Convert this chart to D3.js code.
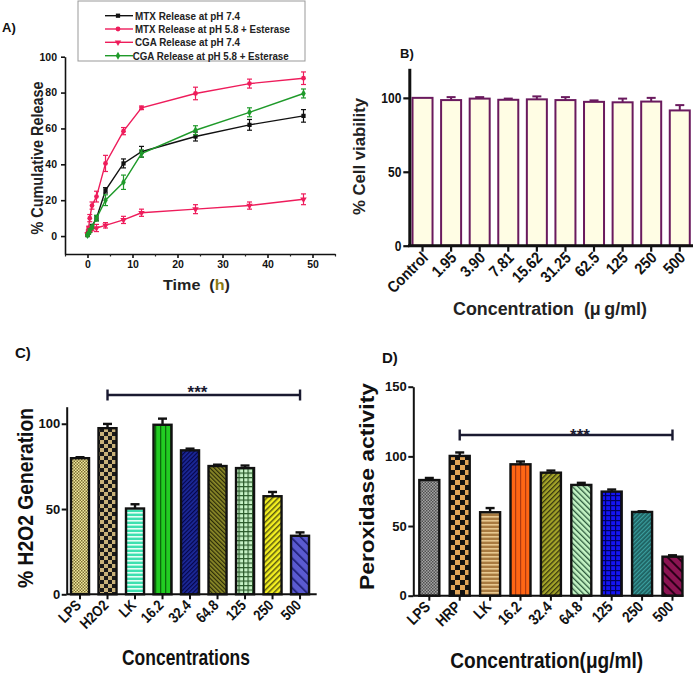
<!DOCTYPE html>
<html><head><meta charset="utf-8">
<script src="https://cdn.jsdelivr.net/npm/d3@7"></script>
<style>
body{margin:0;background:#fff}
svg{display:block;font-family:"Liberation Sans",Arial,sans-serif;font-weight:bold}
</style>
</head><body>
<svg id="fig" width="698" height="676"></svg>
<script>
// ---------- Panel A data ----------
const timesA = [0, 0.25, 0.5, 1, 2, 4, 8, 12, 24, 36, 48];
const mtx74 = [0.5, 2, 3, 5.5, 10, 25.5, 40.5, 47, 55.5, 62, 67];
const mtx74Err = [0.5, 0.5, 1, 1, 1.5, 1.5, 2.5, 3, 2.5, 3, 3.5];
const mtx58 = [1, 4.5, 10, 17, 22, 40.5, 58.5, 71.5, 79.5, 85, 88];
const mtx58Err = [1, 1, 2, 2, 3, 4.5, 2, 1, 3.5, 2.5, 3.5];
const cga74 = [1, 2.5, 3.5, 4, 4.5, 6, 9, 13, 15, 17, 20.5];
const cga74Err = [1, 1, 1, 1, 2, 1.5, 2, 2, 2.5, 2, 3];
const cga58 = [0.5, 1.5, 3, 5, 10, 20, 30, 46, 59, 69, 79.5];
const cga58Err = [0.5, 0.5, 1, 1, 1.5, 3, 4, 2, 2.5, 2.5, 2.5];
const seriesNamesA = ["MTX Release at pH 7.4", "MTX Release at pH 5.8 + Esterase", "CGA Release at pH 7.4", "CGA Release at pH 5.8 + Esterase"];
const xTicksA = [0, 10, 20, 30, 40, 50];
const yTicksA = [0, 20, 40, 60, 80, 100];

// ---------- Panel B data ----------
const catsB = ["Control", "1.95", "3.90", "7.81", "15.62", "31.25", "62.5", "125", "250", "500"];
const viability = [100, 98.5, 99.5, 98.7, 99, 98.5, 97.3, 97, 97.5, 91.5];
const viabilityErr = [0, 2, 1, 0.8, 2, 2, 1, 2.5, 2.5, 3.6];
const yTicksB = [0, 50, 100];

// ---------- Panel C data ----------
const catsC = ["LPS", "H2O2", "LK", "16.2", "32.4", "64.8", "125", "250", "500"];
const h2o2 = [79.8, 97.4, 50.3, 99.4, 84.4, 75.2, 74, 57.5, 34.3];
const h2o2Err = [0.6, 2.5, 2.5, 3.6, 1, 0.8, 1.5, 2.5, 2];
const yTicksC = [0, 50, 100];

// ---------- Panel D data ----------
const catsD = ["LPS", "HRP", "LK", "16.2", "32.4", "64.8", "125", "250", "500"];
const peroxidase = [83, 100.3, 59.9, 94.3, 88.3, 79.5, 74.7, 60.1, 28];
const peroxidaseErr = [1.5, 2.5, 3, 2, 1.5, 1.5, 1.5, 0.5, 1];
const yTicksD = [0, 50, 100, 150];

const svg = d3.select("#fig");
const defs = svg.append("defs");

// ---------- helpers ----------
function txt(g, s, x, y, size, o = {}) {
  const t = g.append("text")
    .attr("transform", `translate(${x},${y})` + (o.rot ? ` rotate(${o.rot})` : ""))
    .attr("font-size", size)
    .attr("text-anchor", o.anchor || "middle")
    .attr("fill", o.fill || "#111");
  if (s !== null) t.text(s);
  if (o.len) t.attr("textLength", o.len).attr("lengthAdjust", "spacingAndGlyphs");
  return t;
}
function condense(sel, f) {
  sel.each(function () {
    const L = this.getComputedTextLength();
    d3.select(this).attr("textLength", L * f).attr("lengthAdjust", "spacingAndGlyphs");
  });
}
function pat(id, w, h, bg, rot) {
  const p = defs.append("pattern").attr("id", id).attr("patternUnits", "userSpaceOnUse")
    .attr("width", w).attr("height", h);
  if (rot) p.attr("patternTransform", `rotate(${rot})`);
  p.append("rect").attr("width", w).attr("height", h).attr("fill", bg);
  return p;
}
function checker(id, s, c1, c2) {
  const p = pat(id, 2 * s, 2 * s, c1);
  p.append("rect").attr("width", s).attr("height", s).attr("fill", c2);
  p.append("rect").attr("x", s).attr("y", s).attr("width", s).attr("height", s).attr("fill", c2);
}
function hlines(id, per, bg, lc, lw) {
  const p = pat(id, per, per, bg);
  p.append("rect").attr("width", per).attr("height", lw).attr("fill", lc);
}
function vlines(id, per, bg, lc, lw, rot) {
  const p = pat(id, per, per, bg, rot);
  p.append("rect").attr("width", lw).attr("height", per).attr("fill", lc);
}
function grid(id, per, bg, lc, lw) {
  const p = pat(id, per, per, bg);
  p.append("rect").attr("width", lw).attr("height", per).attr("fill", lc);
  p.append("rect").attr("width", per).attr("height", lw).attr("fill", lc);
}

// patterns panel C
checker("c0", 1.5, "#f2eca0", "#7a6a30");
checker("c1", 4, "#c9b27a", "#1a1a1a");
hlines("c2", 4, "#3de0b0", "#e4fff4", 1.6);
vlines("c3", 5, "#22cc22", "#0a6a0a", 1.3);
vlines("c4", 3, "#1c2a9a", "#05054a", 1.2, 45);
vlines("c5", 3, "#8c8a28", "#2a2a08", 1.2, -45);
grid("c6", 4.5, "#c6f2c6", "#2a5a2a", 1.2);
vlines("c7", 4, "#f4f020", "#5a5a10", 1.5, 45);
vlines("c8", 7, "#5a5ad0", "#1a1a70", 1.6, -45);
// patterns panel D
checker("d0", 1.5, "#a4a4a4", "#505050");
checker("d1", 5, "#e0a458", "#111111");
hlines("d2", 4, "#a87a40", "#e8c890", 1.6);
vlines("d3", 5, "#ff6614", "#b03a10", 1.2);
vlines("d4", 3.5, "#a4a428", "#3a3a10", 1.3, 45);
vlines("d5", 4, "#c4f4c4", "#2c5a3c", 1.3, -45);
grid("d6", 5, "#1414f4", "#000060", 1.2);
vlines("d7", 3, "#1e6060", "#3aa0a0", 1.2, 45);
vlines("d8", 7, "#8c1452", "#2a0018", 2, -45);

function styleAxis(g, size, sw) {
  g.attr("font-size", size).attr("font-family", null).attr("font-weight", "bold");
  g.selectAll(".tick line").attr("stroke", "#111").attr("stroke-width", sw);
  g.selectAll(".tick text").attr("fill", "#111");
  g.selectAll(".domain").attr("stroke", "#111").attr("stroke-width", sw);
}

// ================= Panel A =================
(function () {
  const g = svg.append("g");
  const x = d3.scaleLinear().domain([-5, 55]).range([65, 335]);
  const y = d3.scaleLinear().domain([-10, 100]).range([254, 56.7]);

  const gx = g.append("g").attr("transform", "translate(0,254)")
    .call(d3.axisBottom(x).tickValues(xTicksA).tickSize(4).tickPadding(3).tickSizeOuter(0));
  styleAxis(gx, 10.5, 1.6);
  g.append("g").attr("transform", "translate(0,254)")
    .call(d3.axisBottom(x).tickValues([-5, 5, 15, 25, 35, 45, 55]).tickSize(2.5).tickFormat("").tickSizeOuter(0))
    .call(a => { a.select(".domain").remove(); a.selectAll("line").attr("stroke", "#222").attr("stroke-width", 1.2); });
  const gy = g.append("g").attr("transform", "translate(65,0)")
    .call(d3.axisLeft(y).tickValues(yTicksA).tickSize(4).tickPadding(4).tickSizeOuter(0));
  styleAxis(gy, 10.5, 1.6);

  const series = [
    { v: mtx74, e: mtx74Err, c: "#111111", m: d3.symbolSquare, rot: 0 },
    { v: mtx58, e: mtx58Err, c: "#ee1c5b", m: d3.symbolCircle, rot: 0 },
    { v: cga74, e: cga74Err, c: "#ee1c5b", m: d3.symbolTriangle, rot: 180 },
    { v: cga58, e: cga58Err, c: "#1f9a2a", m: d3.symbolDiamond, rot: 0 }
  ];
  const line = d3.line().x(d => x(d.t)).y(d => y(d.v));
  series.forEach(s => {
    const pts = timesA.map((t, i) => ({ t, v: s.v[i], e: s.e[i] }));
    g.append("path").datum(pts).attr("d", line).attr("fill", "none").attr("stroke", s.c).attr("stroke-width", 1.4);
    const eb = g.append("g").attr("stroke", s.c).attr("stroke-width", 1.2);
    pts.forEach(p => {
      eb.append("line").attr("x1", x(p.t)).attr("x2", x(p.t)).attr("y1", y(p.v - p.e)).attr("y2", y(p.v + p.e));
      [p.v - p.e, p.v + p.e].forEach(yy => eb.append("line").attr("x1", x(p.t) - 2.5).attr("x2", x(p.t) + 2.5).attr("y1", y(yy)).attr("y2", y(yy)));
    });
    g.append("g").selectAll("path").data(pts).join("path")
      .attr("d", d3.symbol().type(s.m).size(18))
      .attr("transform", d => `translate(${x(d.t)},${y(d.v)}) rotate(${s.rot})`)
      .attr("fill", s.c);
  });

  // legend
  const lg = g.append("g");
  lg.append("rect").attr("x", 78).attr("y", 1).attr("width", 227).attr("height", 60)
    .attr("fill", "#fff").attr("stroke", "#999").attr("stroke-width", 1);
  const ly = [15.7, 29, 42.3, 55.7];
  const lens = [105, 155, 105, 156];
  series.forEach((s, i) => {
    lg.append("line").attr("x1", 105).attr("x2", 133).attr("y1", ly[i]).attr("y2", ly[i]).attr("stroke", s.c).attr("stroke-width", 1.4);
    lg.append("path").attr("d", d3.symbol().type(s.m).size(18)).attr("transform", `translate(118,${ly[i]}) rotate(${s.rot})`).attr("fill", s.c);
    txt(lg, seriesNamesA[i], i === 3 ? 132.7 : 135, ly[i] + 3.8, 10.5, { anchor: "start", len: lens[i], fill: "#222" });
  });

  txt(g, "A)", 2, 32, 13, { anchor: "start" });
  txt(g, "% Cumulative Release", 43, 158, 17, { rot: -90, len: 153, fill: "#222" });
  const tt = txt(g, null, 196.5, 289.5, 15, { len: 67, fill: "#222" });
  tt.append("tspan").text("Time\u00a0\u00a0(");
  tt.append("tspan").attr("fill", "#8a7a10").text("h");
  tt.append("tspan").text(")");
})();

// ================= Panel B =================
(function () {
  const g = svg.append("g");
  const x = d3.scaleBand().domain(catsB).range([406.8, 695.5]).paddingInner(0.3).paddingOuter(0.2);
  const y = d3.scaleLinear().domain([0, 120]).range([245.7, 68.3]);
  const purple = "#6a1a5e";

  g.selectAll("rect.bar").data(catsB).join("rect").attr("class", "bar")
    .attr("x", c => x(c)).attr("width", x.bandwidth())
    .attr("y", (c, i) => y(viability[i])).attr("height", (c, i) => y(0) - y(viability[i]))
    .attr("fill", "#fffde4").attr("stroke", purple).attr("stroke-width", 2);
  const eb = g.append("g").attr("stroke", purple).attr("stroke-width", 2);
  catsB.forEach((c, i) => {
    if (!viabilityErr[i]) return;
    const cx = x(c) + x.bandwidth() / 2;
    eb.append("line").attr("x1", cx).attr("x2", cx).attr("y1", y(viability[i])).attr("y2", y(viability[i] + viabilityErr[i]));
    eb.append("line").attr("x1", cx - 4.5).attr("x2", cx + 4.5).attr("y1", y(viability[i] + viabilityErr[i])).attr("y2", y(viability[i] + viabilityErr[i]));
  });

  const gx = g.append("g").attr("transform", "translate(0,245.7)")
    .call(d3.axisBottom(x).tickSize(6).tickSizeOuter(0));
  styleAxis(gx, 16, 2.2);
  gx.select(".domain").remove();
  gx.selectAll(".tick text").attr("x", 0).attr("y", 0).attr("dy", 0)
    .attr("transform", "translate(6.5,13) rotate(-45)").attr("text-anchor", "end");
  condense(gx.selectAll(".tick text"), 0.88);
  g.append("line").attr("x1", 408).attr("x2", 693).attr("y1", 245.7).attr("y2", 245.7).attr("stroke", "#111").attr("stroke-width", 3);

  const gy = g.append("g").attr("transform", "translate(409.3,0)")
    .call(d3.axisLeft(y).tickValues(yTicksB).tickSize(6).tickPadding(2).tickSizeOuter(0));
  styleAxis(gy, 15, 2.2);
  gy.select(".domain").attr("stroke-width", 3);
  condense(gy.selectAll(".tick text"), 0.8);

  txt(g, "B)", 400, 58, 13, { anchor: "start" });
  txt(g, "% Cell viability", 365, 156.5, 16, { rot: -90, len: 117, fill: "#222" });
  txt(g, "Concentration\u00a0\u00a0(\u03bc\u2009g/ml)", 550, 315, 18, { len: 194, fill: "#222" });
})();

// ================= Bar panels C & D =================
function barPanel(o) {
  const g = svg.append("g");
  const x = d3.scaleBand().domain(o.cats).range(o.xr).paddingInner(o.pi).paddingOuter(0.3);
  const y = d3.scaleLinear().domain(o.yd).range(o.yr);

  g.selectAll("rect.bar").data(o.cats).join("rect").attr("class", "bar")
    .attr("x", c => x(c)).attr("width", x.bandwidth())
    .attr("y", (c, i) => y(o.vals[i])).attr("height", (c, i) => y(0) - y(o.vals[i]))
    .attr("fill", (c, i) => `url(#${o.pid}${i})`).attr("stroke", "#111").attr("stroke-width", 2.4);
  const eb = g.append("g").attr("stroke", "#111").attr("stroke-width", 2.4);
  o.cats.forEach((c, i) => {
    const cx = x(c) + x.bandwidth() / 2, top = y(o.vals[i] + o.errs[i]);
    eb.append("line").attr("x1", cx).attr("x2", cx).attr("y1", y(o.vals[i])).attr("y2", top);
    eb.append("line").attr("x1", cx - 4.5).attr("x2", cx + 4.5).attr("y1", top).attr("y2", top);
  });

  const gx = g.append("g").attr("transform", `translate(0,${o.yr[0]})`)
    .call(d3.axisBottom(x).tickSize(5).tickSizeOuter(0));
  styleAxis(gx, o.tickSize, 2);
  gx.select(".domain").remove();
  gx.selectAll(".tick text").attr("x", 0).attr("y", 0).attr("dy", 0)
    .attr("transform", "translate(2,12) rotate(-45)").attr("text-anchor", "end");
  condense(gx.selectAll(".tick text"), 0.85);
  g.append("line").attr("x1", o.ax[0]).attr("x2", o.ax[1]).attr("y1", o.yr[0]).attr("y2", o.yr[0]).attr("stroke", "#111").attr("stroke-width", 2);

  const gy = g.append("g").attr("transform", `translate(${o.ax[0]},0)`)
    .call(d3.axisLeft(y).tickValues(o.yt).tickSize(5).tickPadding(1.5).tickSizeOuter(0));
  styleAxis(gy, 13, 2);

  // significance bar
  const x1 = x(o.cats[1]) + x.bandwidth() / 2, x2 = x(o.cats[o.cats.length - 1]) + x.bandwidth() / 2;
  const sg = g.append("g").attr("stroke", "#1a1a30").attr("stroke-width", 2.4);
  sg.append("line").attr("x1", x1).attr("x2", x2).attr("y1", o.sigY).attr("y2", o.sigY);
  [x1, x2].forEach(xx => sg.append("line").attr("x1", xx).attr("x2", xx).attr("y1", o.sigY - 5.5).attr("y2", o.sigY + 5.5));
  txt(g, "***", o.starX, o.starY, 17, { fill: "#1a1a30" });

  txt(g, o.label, o.labelPos[0], o.labelPos[1], 15, { anchor: "start" });
  txt(g, o.ytitle, o.ytPos[0], o.ytPos[1], o.ytSize, { rot: -90, len: o.ytLen });
  txt(g, o.xtitle, o.xtPos[0], o.xtPos[1], 22, { len: o.xtLen });
}

barPanel({
  cats: catsC, vals: h2o2, errs: h2o2Err, pid: "c", tickSize: 15,
  xr: [62.75, 317.3], pi: 0.345, yd: [0, 110], yr: [594.3, 406.7], yt: yTicksC, ax: [66.7, 316.7],
  sigY: 395, starX: 197.5, starY: 397.5,
  label: "C)", labelPos: [15, 358],
  ytitle: "% H2O2 Generation", ytPos: [33, 498], ytSize: 22, ytLen: 180,
  xtitle: "Concentrations", xtPos: [186, 665], xtLen: 128
});
barPanel({
  cats: catsD, vals: peroxidase, errs: peroxidaseErr, pid: "d", tickSize: 15.5,
  xr: [410.2, 691.6], pi: 0.342, yd: [0, 150], yr: [595.7, 386.7], yt: yTicksD, ax: [413.3, 683.3],
  sigY: 435, starX: 580, starY: 441,
  label: "D)", labelPos: [382, 363],
  ytitle: "Peroxidase activity", ytPos: [374, 486.5], ytSize: 21, ytLen: 207,
  xtitle: "Concentration(\u03bcg/ml)", xtPos: [546.7, 668.3], xtLen: 193
});
</script>
</body></html>
